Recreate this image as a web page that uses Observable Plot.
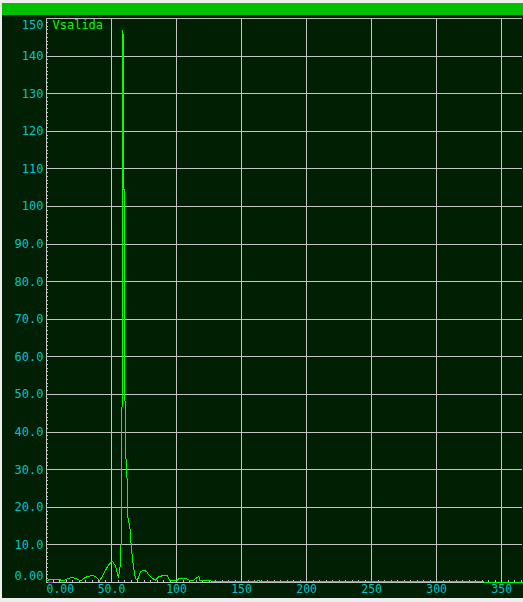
<!DOCTYPE html>
<html>
<head>
<meta charset="utf-8">
<script src="https://cdn.jsdelivr.net/npm/d3@7"></script>
<script src="https://cdn.jsdelivr.net/npm/@observablehq/plot@0.6"></script>
<style>
  html, body { margin: 0; padding: 0; background: #eeeeee; width: 523px; height: 602px; overflow: hidden; }
  #bar { position: absolute; left: 2px; top: 3px; width: 521px; height: 12px; background: #00c000; }
  #panel { position: absolute; left: 2px; top: 15px; width: 521px; height: 583px; background: #011f02; }
  #chart { position: absolute; left: 0; top: 0; }
  #chart svg { background: transparent; overflow: visible; }
</style>
</head>
<body>
<div id="bar"></div>
<div id="panel"></div>
<div id="chart"></div>
<script>
// ---- data ----
const xTicks = [0, 50, 100, 150, 200, 250, 300, 350];
const xLabels = ["0.00", "50.0", "100", "150", "200", "250", "300", "350"];
const yTicks = [0, 10, 20, 30, 40, 50, 60, 70, 80, 90, 100, 110, 120, 130, 140, 150];
const yLabels = ["0.00", "10.0", "20.0", "30.0", "40.0", "50.0", "60.0", "70.0", "80.0", "90.0",
                 "100", "110", "120", "130", "140", "150"];
const seriesName = "Vsalida";
const freq = [0, 3.1, 9.5, 12.1, 15.9, 19.8, 22.3, 26.2, 30.0, 33.8, 37.7, 40.8, 44.1, 47.2, 50.5,
  53.1, 54.4, 55.2, 55.7, 56.9, 57.7, 58.5, 58.8, 59.4, 59.8, 60.4, 61.3, 62.1, 62.5, 64.1, 65.2,
  65.9, 66.7, 67.7, 68.5, 69.8, 71.0, 72.3, 74.8, 76.9, 78.7, 81.3, 83.8, 86.4, 89.0, 92.8, 94.8,
  100.8, 101.8, 106.9, 109.5, 113.3, 117.2, 117.9, 126.2, 140, 150, 162, 163, 164, 200, 250, 300,
  336, 337, 366];
const vsalida = [0.4, 0.93, 0.93, 0.4, 0.93, 1.37, 1.1, 0.4, 1.37, 1.8, 1.7, 0.4, 2.4, 4.4, 5.7,
  4.4, 2.5, 1.3, 2.2, 5.0, 14.8, 84, 147, 125, 83, 46, 30, 27, 17.5, 14.8, 9.5,
  6.9, 4.7, 2.4, 1.1, 0.66, 1.5, 2.9, 3.3, 2.9, 2.0, 1.1, 0.66, 1.5, 1.8, 1.8, 0.6,
  0.6, 1.1, 1.1, 0.66, 0.66, 1.7, 0.4, 0.4, 0.3, 0.35, 0.3, 0.6, 0.3, 0.3, 0.3, 0.3,
  0.3, 0.0, 0.0];
const yMinor = d3.range(0, 150, 1);
const xMinor = d3.range(0, 366, 5);

const data = freq.map((f, i) => ({f, v: vsalida[i]}));
const yTickData = yTicks.map((t, i) => ({t, label: yLabels[i]}));
const xTickData = xTicks.map((t, i) => ({t, label: xLabels[i]}));

const grid = "#c4c4c4";
const labelColor = "#00c4cc";
const lineColor = "#00ff00";
const font = "DejaVu Sans Mono";

const chart = Plot.plot({
  width: 523,
  height: 602,
  marginLeft: 46,
  marginRight: 1,
  marginTop: 18,
  marginBottom: 20,
  x: {domain: [0, 366], axis: null},
  y: {domain: [0, 150], axis: null},
  style: {fontFamily: font, background: "transparent"},
  marks: [
    // grid
    Plot.ruleY(yTicks, {stroke: grid, strokeWidth: 1}),
    Plot.ruleX(xTicks, {stroke: grid, strokeWidth: 1}),
    // minor ticks
    Plot.ruleY(yMinor, {x1: 0, x2: 1.6, stroke: grid}),
    Plot.ruleX(xMinor, {y1: 0, y2: 0.6, stroke: grid}),
    // series
    Plot.line(data, {x: "f", y: "v", stroke: lineColor, strokeWidth: 1}),
    Plot.ruleY([0], {x1: 1.3, x2: 5.6, stroke: "#c040c0"}),
    // y tick labels
    Plot.text(yTickData.filter(d => d.t > 0 && d.t < 150), {y: "t", text: "label", frameAnchor: "left", textAnchor: "end", dx: -3, fill: labelColor, fontSize: 12}),
    Plot.text(yTickData.filter(d => d.t === 0), {y: "t", text: "label", frameAnchor: "left", textAnchor: "end", dx: -3, dy: -6, fill: labelColor, fontSize: 12}),
    Plot.text(yTickData.filter(d => d.t === 150), {y: "t", text: "label", frameAnchor: "left", textAnchor: "end", dx: -3, dy: 7, fill: labelColor, fontSize: 12}),
    // x tick labels
    Plot.text(xTickData.filter(d => d.t > 0), {x: "t", text: "label", frameAnchor: "bottom", dy: 7, fill: labelColor, fontSize: 11.5, lineAnchor: "middle"}),
    Plot.text(xTickData.filter(d => d.t === 0), {x: "t", text: "label", frameAnchor: "bottom", dy: 7, textAnchor: "start", fill: labelColor, fontSize: 11.5, lineAnchor: "middle"}),
    // series name
    Plot.text([seriesName], {frameAnchor: "top-left", dx: 6, dy: 7, textAnchor: "start", lineAnchor: "middle", fill: lineColor, fontSize: 12, letterSpacing: 0.6})
  ]
});
chart.setAttribute("shape-rendering", "crispEdges");
document.getElementById("chart").appendChild(chart);
</script>
</body>
</html>
